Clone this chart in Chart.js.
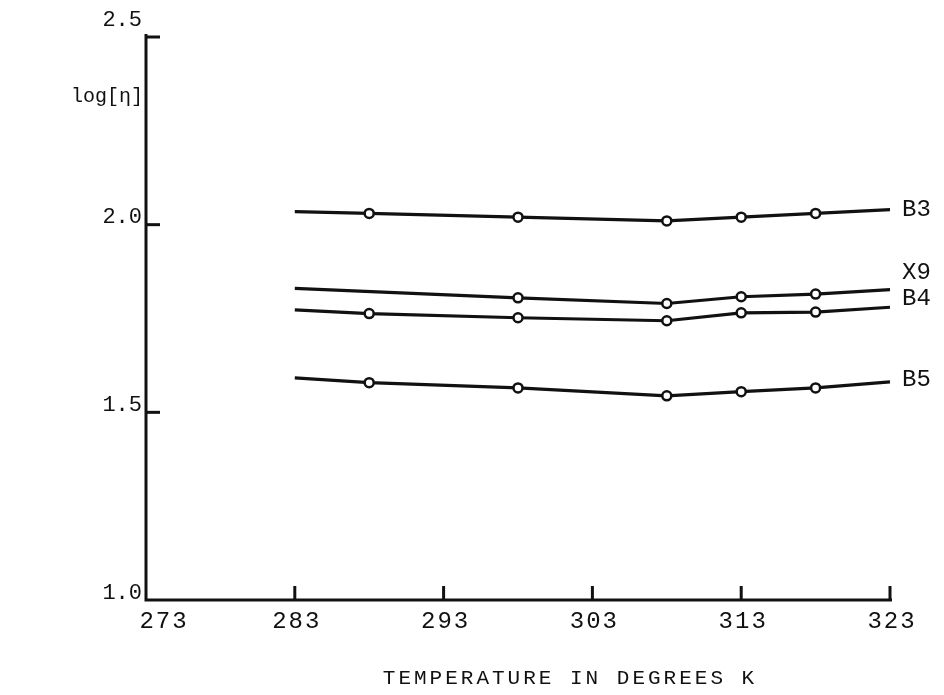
<!DOCTYPE html>
<html>
<head>
<meta charset="utf-8">
<script src="https://cdn.jsdelivr.net/npm/chart.js@4/dist/chart.umd.min.js"></script>
<style>
  html, body { margin: 0; padding: 0; background: #fff; }
  #wrap { width: 944px; height: 695px; }
</style>
</head>
<body>
<div id="wrap"><canvas id="chart" width="944" height="695"></canvas></div>
<script>
// --- Data ---
const temps = [283, 288, 298, 308, 313, 318, 323];
const x9Temps = [283, 298, 308, 313, 318, 323];
const b3 = [2.035, 2.03, 2.02, 2.01, 2.02, 2.03, 2.04];
const x9 = [1.83, 1.805, 1.79, 1.808, 1.815, 1.827];
const b4 = [1.773, 1.763, 1.752, 1.744, 1.765, 1.767, 1.78];
const b5 = [1.592, 1.579, 1.565, 1.544, 1.555, 1.565, 1.581];
const xTicks = [273, 283, 293, 303, 313, 323];
const yTicks = [1.0, 1.5, 2.0, 2.5];

const INK = '#111';
const FONT = '"Liberation Mono", "DejaVu Sans Mono", monospace';

function toPoints(xs, ys) {
    return xs.map((x, i) => ({ x: x, y: ys[i] }));
}

function series(label, xs, ys) {
    return {
        label: label,
        data: toPoints(xs, ys),
        borderColor: INK,
        borderWidth: 3.2,
        backgroundColor: '#fff',
        pointBorderColor: INK,
        pointBackgroundColor: '#fff',
        pointBorderWidth: 2.5,
        // no markers at the line ends
        pointRadius: ctx => (ctx.dataIndex === 0 || ctx.dataIndex === xs.length - 1) ? 0 : 4.5,
        tension: 0,
        clip: false
    };
}

// name label shift (px) relative to the end of its line
const endLabelShift = { B3: 0, X9: -17, B4: -9, B5: -2 };

const axesPlugin = {
    id: 'handAxes',
    afterDraw(chart) {
        const ctx = chart.ctx;
        const xs = chart.scales.x;
        const ys = chart.scales.y;
        const left = xs.getPixelForValue(273);
        const bottom = ys.getPixelForValue(1.0);
        ctx.save();
        ctx.strokeStyle = INK;
        ctx.fillStyle = INK;
        ctx.lineWidth = 3;

        // axis lines
        ctx.beginPath();
        ctx.moveTo(left, ys.getPixelForValue(2.5) - 3);
        ctx.lineTo(left, bottom);
        ctx.lineTo(xs.getPixelForValue(323) + 2, bottom);
        ctx.stroke();

        // y ticks (pointing into the plot) and labels
        ctx.font = '22px ' + FONT;
        ctx.textAlign = 'right';
        ctx.textBaseline = 'bottom';
        yTicks.forEach(v => {
            const py = ys.getPixelForValue(v);
            if (v > 1.0) {
                ctx.beginPath();
                ctx.moveTo(left, py);
                ctx.lineTo(left + 14, py);
                ctx.stroke();
            }
            ctx.fillText(v.toFixed(1), left - 4, py + (v === 2.5 ? -6 : 4));
        });

        // x ticks (pointing up) and labels
        ctx.textAlign = 'center';
        ctx.textBaseline = 'top';
        ctx.font = '24px ' + FONT;
        ctx.letterSpacing = '2px';
        xTicks.forEach(v => {
            const px = xs.getPixelForValue(v);
            if (v > 273) {
                ctx.beginPath();
                ctx.moveTo(px, bottom);
                ctx.lineTo(px, bottom - 14);
                ctx.stroke();
            }
            ctx.fillText(String(v), v === 273 ? px + 18 : px + 2, bottom + 10);
        });

        // axis titles
        ctx.letterSpacing = '0px';
        ctx.font = '20px ' + FONT;
        ctx.textAlign = 'right';
        ctx.textBaseline = 'middle';
        ctx.fillText('log[η]', left - 3, ys.getPixelForValue(2.34));

        ctx.textAlign = 'center';
        ctx.font = '21px ' + FONT;
        ctx.letterSpacing = '3px';
        ctx.fillText('TEMPERATURE IN DEGREES K', 570, bottom + 78);
        ctx.letterSpacing = '0px';

        // series names at the right-hand end of each line
        ctx.textAlign = 'left';
        ctx.textBaseline = 'middle';
        ctx.font = '24px ' + FONT;
        chart.data.datasets.forEach(ds => {
            const last = ds.data[ds.data.length - 1];
            const px = xs.getPixelForValue(last.x) + 12;
            const py = ys.getPixelForValue(last.y) + (endLabelShift[ds.label] || 0);
            ctx.fillText(ds.label, px, py);
        });
        ctx.restore();
    }
};

new Chart(document.getElementById('chart'), {
    type: 'line',
    data: {
        datasets: [
            series('B3', temps, b3),
            series('X9', x9Temps, x9),
            series('B4', temps, b4),
            series('B5', temps, b5)
        ]
    },
    options: {
        responsive: false,
        animation: false,
        layout: { padding: { left: 138, right: 54, top: 37, bottom: 87 } },
        plugins: { legend: { display: false }, tooltip: { enabled: false } },
        scales: {
            x: {
                type: 'linear', min: 273, max: 323,
                grid: { display: false }, border: { display: false },
                ticks: { display: false }
            },
            y: {
                type: 'linear', min: 1.0, max: 2.5,
                grid: { display: false }, border: { display: false },
                ticks: { display: false }
            }
        }
    },
    plugins: [axesPlugin]
});
</script>
</body>
</html>
